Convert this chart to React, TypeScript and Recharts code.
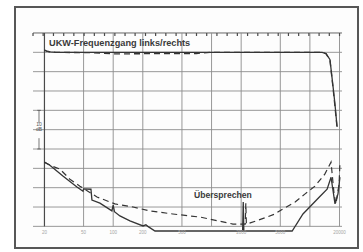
import { ComposedChart, Line, XAxis, YAxis, ReferenceLine } from 'recharts';

// frequency axis (Hz) and grid (dB, one division = 5 dB)
const freqTicks = [20, 50, 100, 200, 500, 1000, 2000, 5000, 10000, 20000];
// chart-recorder marks along the top edge (Hz positions, evenly spaced on paper)
const recorderMarks = [
  15.3, 19.4, 24.7, 31.4, 39.8, 50.6, 64.3, 81.6, 104, 132, 167, 213, 270, 343, 436, 553, 703, 893,
  1134, 1440, 1830, 2324, 2952, 3750, 4763, 6050, 7685, 9762, 12400, 15750, 20010,
];

// UKW frequency response, left (solid) / right (dashed)
const respFreq = [20, 21, 23, 26, 60, 100, 700, 1000, 5000, 10000, 13300, 14600, 16000, 17200, 18000, 18900];
const respLeft = [0.6, 0.3, 0.1, 0, 0, 0, 0, 0, 0, 0, 0, -0.3, -1.9, -8.9, -13.5, -19.3];
const respRight = [0.6, 0.3, 0.1, 0, -0.1, -0.4, -0.3, 0, 0, 0, 0, -0.4, -2.1, -9.3, -14.2, -19.6];

// crosstalk (Übersprechen)
const xtSolidFreq = [
  20, 22.7, 30.8, 42.8, 49.3, 50, 59.4, 60.8, 73.3, 97, 100, 103, 117, 148, 201, 215, 225, 266,
  2070, 2100, 2130, 6600, 8500, 12700, 14960, 16400, 18000, 19300, 20200,
];
const xtSolidDb = [
  -28.4, -29.2, -32.0, -34.8, -35.9, -35.3, -35.4, -38.2, -39.0, -41.0, -39.5, -41.2, -42.3, -43.6,
  -44.9, -44.6, -45, -46.2, -46.2, -38.7, -46.2, -46.2, -41.8, -37.2, -35.4, -32.3, -39.2, -36.6, -32.3,
];
const xtDashFreq = [
  20, 23.8, 28.7, 36.3, 45.9, 68.4, 104, 159, 236, 404, 764, 1652, 2200, 2230, 2260, 2292, 3674, 4400,
  5300, 7080, 8940, 11260, 14180, 16400, 17600, 18400, 19800, 20200,
];
const xtDashDb = [
  -28.4, -29.4, -30.2, -32.8, -34.6, -37.4, -39.2, -40.0, -41.0, -41.8, -42.6, -44.4, -44.4, -39,
  -44.4, -44.4, -42.6, -41.8, -40.5, -38.7, -36.6, -34.6, -31.5, -28.4, -36.6, -39.2, -34.1, -28.4,
];

// paper edges: grid runs from 15.3 Hz to 21.2 kHz, -45 dB to +5 dB
const fMin = 15.3;
const fMax = 21200;
const dbMin = -45;
const dbMax = 5;

const zip = (xs: number[], ys: number[]) => xs.map((f, i) => ({ f, db: ys[i] }));
const recRows = recorderMarks.flatMap((f) => [
  { f, db: dbMax },
  { f, db: dbMax - 0.8 },
  { f, db: null },
]);

const hseg = (db: number) => [
  { x: fMin, y: db },
  { x: fMax, y: db },
];
const vseg = (f: number) => [
  { x: f, y: dbMin },
  { x: f, y: dbMax },
];

const ink = '#353535';
const gridColor = '#8c8c8c';
const sans = '"Liberation Sans", Arial, sans-serif';
const g = { stroke: gridColor, strokeWidth: 0.9, ifOverflow: 'visible' as const };

const FreqTick = ({ x, y, payload }: any) => (
  <text x={x} y={y + 2.5} textAnchor="middle" fontSize={4.5} fill="#a5a5a5" fontFamily={sans}>
    {payload.value}
  </text>
);

const NoTick = () => <g />;

export default function App() {
  return (
    <div style={{ position: 'absolute', left: 0, top: 0, width: 363, height: 252, background: '#fff' }}>
      <div
        style={{
          position: 'absolute',
          left: 14,
          top: 6,
          width: 345,
          height: 243,
          border: '2px solid #575757',
          boxSizing: 'border-box',
          background: '#fdfdfd',
        }}
      />
      <div style={{ position: 'absolute', left: 0, top: 0 }}>
        <ComposedChart width={363} height={252} margin={{ top: 29, right: 17, bottom: 0, left: 29 }}>
          <XAxis
            dataKey="f"
            type="number"
            scale="log"
            domain={() => [13.93, 23280]}
            ticks={freqTicks}
            tick={<FreqTick />}
            axisLine={false}
            tickLine={false}
            tickSize={0}
            tickMargin={0}
            height={21}
          />
          <YAxis
            dataKey="db"
            type="number"
            domain={() => [-46.03, 6.03]}
            width={0}
            tick={<NoTick />}
            axisLine={false}
            tickLine={false}
          />

          <ReferenceLine segment={hseg(-45)} {...g} />
          <ReferenceLine segment={hseg(-40)} {...g} />
          <ReferenceLine segment={hseg(-35)} {...g} />
          <ReferenceLine segment={hseg(-30)} {...g} />
          <ReferenceLine segment={hseg(-25)} {...g} />
          <ReferenceLine segment={hseg(-20)} {...g} />
          <ReferenceLine segment={hseg(-15)} {...g} />
          <ReferenceLine segment={hseg(-10)} {...g} />
          <ReferenceLine segment={hseg(-5)} {...g} />
          <ReferenceLine segment={hseg(0)} {...g} />
          <ReferenceLine segment={hseg(5)} stroke="#666" strokeWidth={1} ifOverflow="visible" />

          <ReferenceLine segment={vseg(20)} stroke="#4a4a4a" strokeWidth={1.2} ifOverflow="visible" />
          <ReferenceLine segment={vseg(50)} {...g} />
          <ReferenceLine segment={vseg(100)} {...g} />
          <ReferenceLine segment={vseg(200)} {...g} />
          <ReferenceLine segment={vseg(500)} {...g} />
          <ReferenceLine segment={vseg(1000)} {...g} />
          <ReferenceLine segment={vseg(2000)} {...g} />
          <ReferenceLine segment={vseg(5000)} {...g} />
          <ReferenceLine segment={vseg(10000)} {...g} />
          <ReferenceLine segment={vseg(20000)} {...g} />

          {/* 10 dB scale marker */}
          <ReferenceLine segment={[{ x: 17.6, y: -15 }, { x: 17.6, y: -18.3 }]} stroke="#555" strokeWidth={0.8} ifOverflow="visible" />
          <ReferenceLine segment={[{ x: 17.6, y: -22.2 }, { x: 17.6, y: -25 }]} stroke="#555" strokeWidth={0.8} ifOverflow="visible" />
          <ReferenceLine segment={[{ x: 16.9, y: -15 }, { x: 18.4, y: -15 }]} stroke="#555" strokeWidth={0.8} ifOverflow="visible" />
          <ReferenceLine segment={[{ x: 16.9, y: -25 }, { x: 18.4, y: -25 }]} stroke="#555" strokeWidth={0.8} ifOverflow="visible" />

          <Line data={recRows} dataKey="db" type="linear" stroke="#4a4a4a" strokeWidth={1.2} dot={false} activeDot={false} isAnimationActive={false} />

          <Line
            data={zip(xtDashFreq, xtDashDb)}
            dataKey="db"
            type="linear"
            stroke={ink}
            strokeWidth={1.2}
            strokeDasharray="6 4"
            dot={false}
            isAnimationActive={false}
          />
          <Line
            data={zip(xtSolidFreq, xtSolidDb)}
            dataKey="db"
            type="linear"
            stroke={ink}
            strokeWidth={1.3}
            dot={false}
            isAnimationActive={false}
          />
          <Line
            data={zip(respFreq, respRight)}
            dataKey="db"
            type="linear"
            stroke={ink}
            strokeWidth={1.3}
            strokeDasharray="6 4"
            dot={false}
            isAnimationActive={false}
          />
          <Line
            data={zip(respFreq, respLeft)}
            dataKey="db"
            type="linear"
            stroke={ink}
            strokeWidth={1.3}
            dot={false}
            isAnimationActive={false}
          />
        </ComposedChart>
      </div>

      <div
        style={{
          position: 'absolute',
          left: 49,
          top: 38,
          fontFamily: sans,
          fontWeight: 700,
          fontSize: 9.2,
          lineHeight: '10px',
          color: '#3a3a3a',
          whiteSpace: 'nowrap',
        }}
      >
        UKW-Frequenzgang links/rechts
      </div>
      <div
        style={{
          position: 'absolute',
          left: 194,
          top: 190,
          fontFamily: sans,
          fontWeight: 700,
          fontSize: 8.6,
          lineHeight: '10px',
          color: '#3a3a3a',
          whiteSpace: 'nowrap',
        }}
      >
        Übersprechen
      </div>
      <div
        style={{
          position: 'absolute',
          left: 34,
          top: 122,
          width: 10,
          textAlign: 'center',
          fontFamily: sans,
          fontSize: 5,
          lineHeight: '5px',
          color: '#555',
        }}
      >
        10
        <br />
        dB
      </div>
    </div>
  );
}
